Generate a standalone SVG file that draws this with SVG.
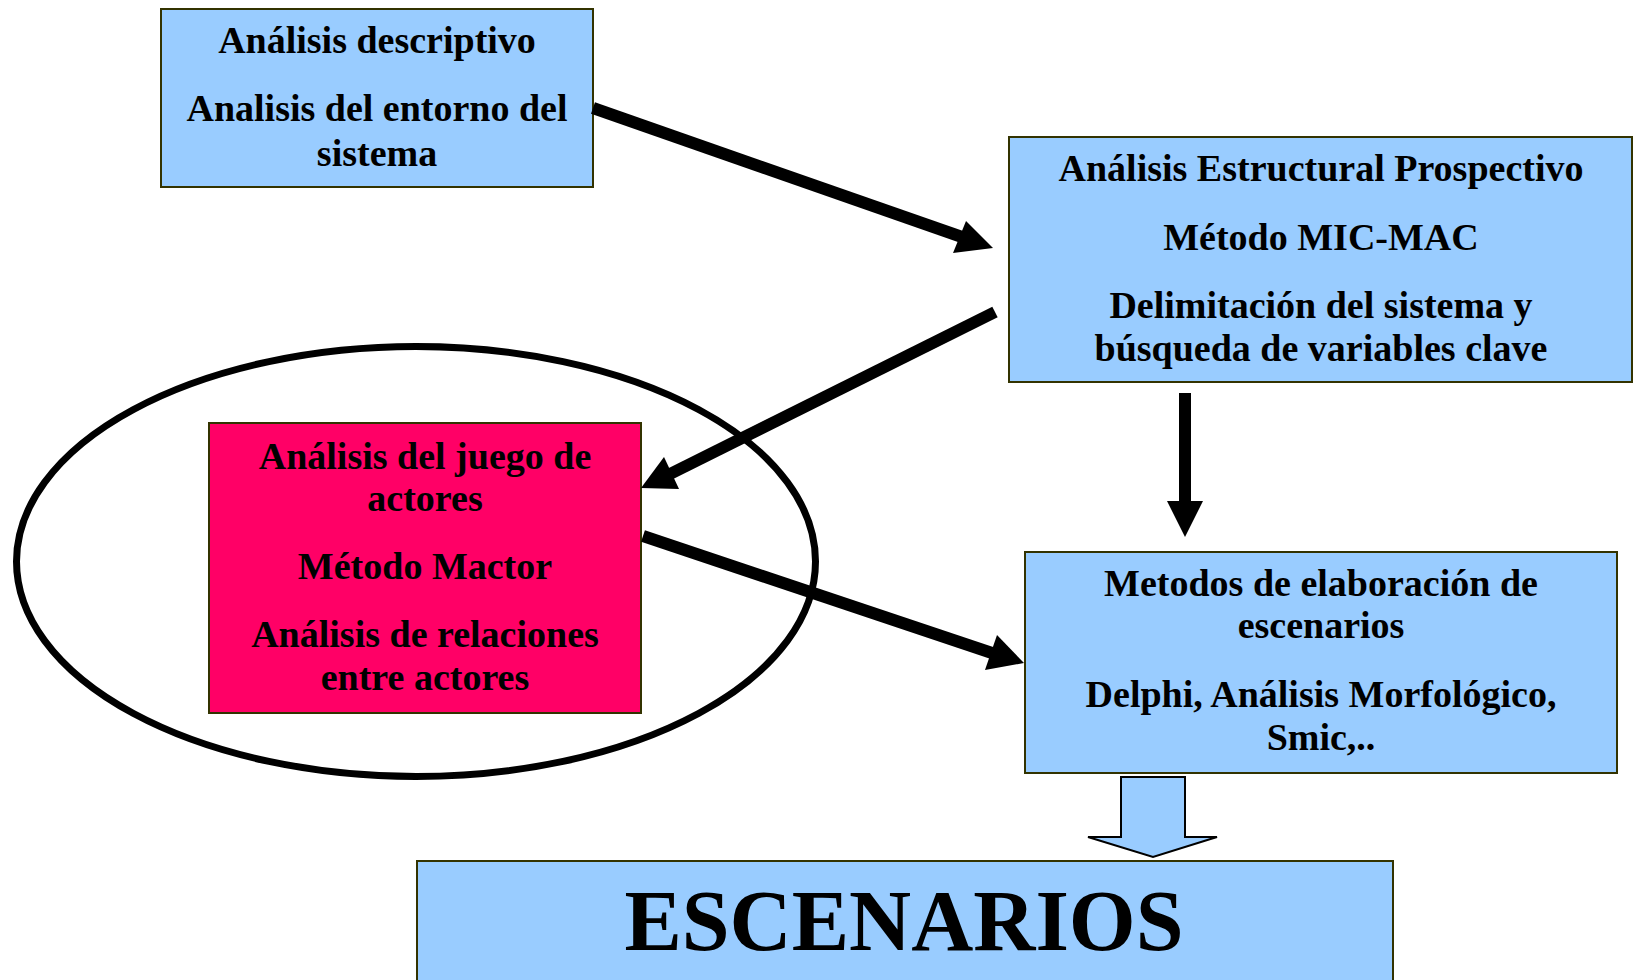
<svg xmlns="http://www.w3.org/2000/svg" width="1633" height="980" viewBox="0 0 1633 980">
<defs>
<style>
.box{fill:#99CCFF;stroke:#333300;stroke-width:2}
.pink{fill:#FF0066;stroke:#333300;stroke-width:2}
.t{font-family:"Liberation Serif","Times New Roman",serif;font-weight:bold;font-size:38px;fill:#000;text-anchor:middle}
.big{font-size:86px}
.conn{stroke:#000;stroke-width:12;fill:none}
.head{fill:#000}
</style>
</defs>
<rect x="0" y="0" width="1633" height="980" fill="#fff"/>
<g id="ellipse-group">
<ellipse cx="416" cy="561.5" rx="399.5" ry="215" fill="none" stroke="#000" stroke-width="7"/>
</g>
<g id="node-descriptivo">
<rect class="box" x="161" y="9" width="432" height="178"/>
<text class="t" x="377" y="53">Análisis descriptivo</text>
<text class="t" x="377" y="121">Analisis del entorno del</text>
<text class="t" x="377" y="166">sistema</text>
</g>
<g id="node-estructural">
<rect class="box" x="1009" y="137" width="623" height="245"/>
<text class="t" x="1321" y="181">Análisis Estructural Prospectivo</text>
<text class="t" x="1321" y="250">Método MIC-MAC</text>
<text class="t" x="1321" y="318">Delimitación del sistema y</text>
<text class="t" x="1321" y="361">búsqueda de variables clave</text>
</g>
<g id="node-actores">
<rect class="pink" x="209" y="423" width="432" height="290"/>
<text class="t" x="425" y="469">Análisis del juego de</text>
<text class="t" x="425" y="511">actores</text>
<text class="t" x="425" y="579">Método Mactor</text>
<text class="t" x="425" y="647">Análisis de relaciones</text>
<text class="t" x="425" y="690">entre actores</text>
</g>
<g id="node-metodos">
<rect class="box" x="1025" y="552" width="592" height="221"/>
<text class="t" x="1321" y="596">Metodos de elaboración de</text>
<text class="t" x="1321" y="638">escenarios</text>
<text class="t" x="1321" y="707">Delphi, Análisis Morfológico,</text>
<text class="t" x="1321" y="750">Smic,..</text>
</g>
<g id="node-escenarios">
<rect class="box" x="417" y="861" width="976" height="140"/>
<text class="t big" x="904" y="950">ESCENARIOS</text>
</g>
<g id="connectors">
<line class="conn" x1="593" y1="108" x2="962" y2="237"/>
<polygon class="head" points="993,248 966,221 953,253"/>
<line class="conn" x1="995" y1="312" x2="670" y2="474"/>
<polygon class="head" points="641,488 664,457 679,489"/>
<line class="conn" x1="1185" y1="393" x2="1185" y2="503"/>
<polygon class="head" points="1167,501 1203,501 1185,537"/>
<line class="conn" x1="643" y1="536" x2="992" y2="653"/>
<polygon class="head" points="1024,663 997,635 985,670"/>
<polygon fill="#99CCFF" stroke="#000" stroke-width="2" points="1121,777 1185,777 1185,837 1217,837 1153,857 1088,837 1121,837"/>
</g>
</svg>
